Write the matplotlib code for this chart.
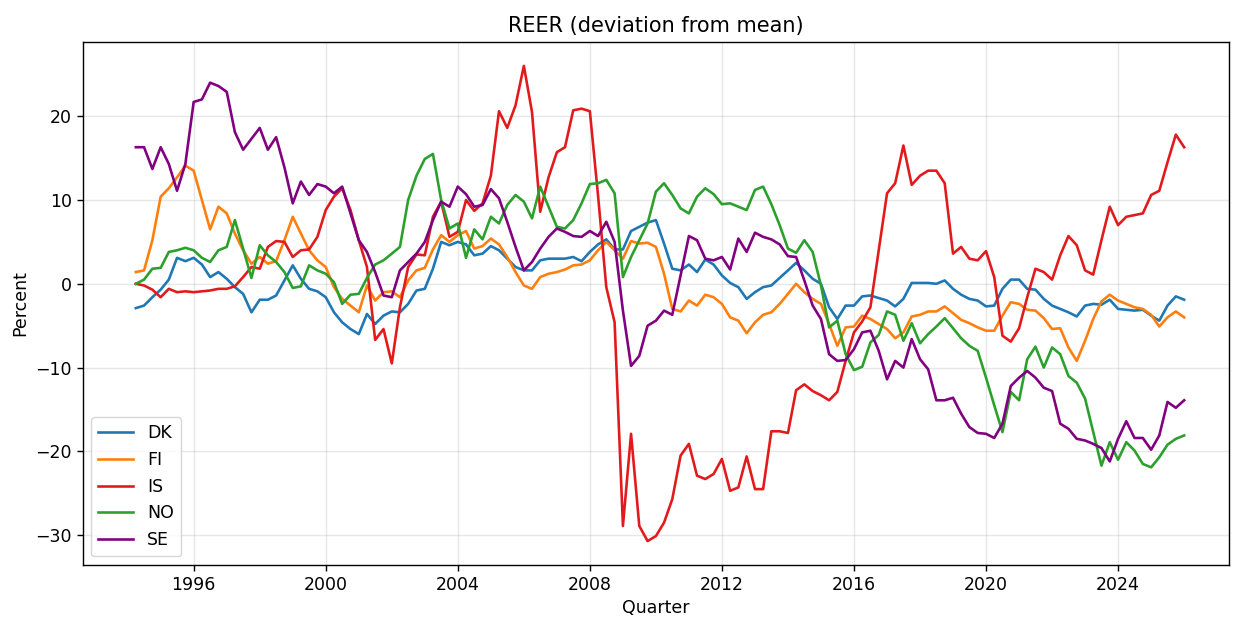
import matplotlib
matplotlib.use("Agg")
import matplotlib.pyplot as plt
import matplotlib.dates as mdates
import pandas as pd

# Quarterly REER, deviation from mean (percent), 1994Q1 - 2025Q4
quarters = pd.date_range("1994-03-31", periods=128, freq="QE")

DK = [-2.9, -2.6, -1.6, -0.7, 0.5, 3.1, 2.7, 3.1, 2.3, 0.8, 1.4, 0.6, -0.4, -1.2, -3.4, -1.9,
      -1.9, -1.4, 0.4, 2.2, 0.6, -0.6, -0.9, -1.6, -3.4, -4.6,
      -5.4, -6.0, -3.6, -4.8, -3.8, -3.3, -3.4, -2.4, -0.8, -0.6, 1.8, 5.0, 4.6, 5.0, 4.7, 3.4,
      3.6, 4.5, 4.0, 3.0, 2.0, 1.6, 1.6, 2.8, 3.0,
      3.0, 3.0, 3.2, 2.7, 3.8, 4.7, 5.3, 4.1, 4.1, 6.3, 6.8, 7.3, 7.6, 4.8, 1.8, 1.6, 2.3, 1.4,
      2.9, 2.3, 1.0, 0.1, -0.4, -1.8, -1.0, -0.4,
      -0.2, 0.7, 1.6, 2.5, 1.6, 0.6, 0.0, -2.8, -4.2, -2.6, -2.6, -1.5, -1.4, -1.7, -2.0, -2.7,
      -1.8, 0.1, 0.1, 0.1, 0.0, 0.4, -0.6, -1.3, -1.8,
      -2.0, -2.7, -2.6, -0.6, 0.5, 0.5, -0.6, -0.7, -1.8, -2.6, -3.0, -3.4, -3.9, -2.6, -2.4, -2.5,
      -1.9, -3.0, -3.1, -3.2, -3.1, -3.8, -4.4, -2.6, -1.5, -1.9]

FI = [1.4, 1.6, 5.2, 10.4, 11.4, 12.7, 14.1, 13.5, 10.0, 6.5, 9.2, 8.4, 6.0, 4.0, 2.4, 3.2,
      2.4, 2.7, 5.2, 8.0, 6.0, 4.0, 2.8, 2.0, -0.4, -1.8,
      -2.6, -3.4, -0.2, -2.0, -1.0, -0.9, -1.6, 0.4, 1.6, 1.9, 4.1, 5.8, 5.0, 5.8, 6.3, 4.2,
      4.5, 5.4, 4.7, 3.2, 1.4, -0.2, -0.6, 0.8, 1.2,
      1.4, 1.7, 2.2, 2.3, 2.8, 4.0, 5.0, 4.0, 3.0, 5.1, 4.8, 4.9, 4.4, 1.2, -3.0, -3.3, -2.0, -2.6,
      -1.3, -1.6, -2.4, -4.0, -4.4, -5.9, -4.6, -3.7,
      -3.4, -2.4, -1.2, 0.0, -1.0, -1.8, -2.4, -4.8, -7.4, -5.2, -5.1, -3.8, -4.2, -4.8, -5.4, -6.5,
      -5.8, -3.9, -3.7, -3.3, -3.3, -2.7, -3.5, -4.3, -4.7,
      -5.2, -5.6, -5.6, -3.8, -2.2, -2.4, -3.1, -3.2, -4.1, -5.4, -5.3, -7.6, -9.2, -6.8, -4.2, -2.1,
      -1.3, -2.0, -2.4, -2.8, -3.0, -3.7, -5.1, -4.0, -3.3, -4.0]

IS = [0.0, -0.2, -0.7, -1.6, -0.6, -1.0, -0.9, -1.0, -0.9, -0.8, -0.6, -0.6, -0.3, 0.8, 2.0, 1.8,
      4.4, 5.1, 5.0, 3.2, 4.0, 4.1, 5.6, 8.8, 10.4, 11.4,
      8.8, 5.2, 2.0, -6.7, -5.4, -9.5, -2.8, 2.0, 3.5, 3.4, 8.0, 9.8, 5.6, 6.2, 10.0, 8.7,
      9.6, 12.9, 20.6, 18.6, 21.3, 26.0, 20.5, 8.6, 12.7,
      15.7, 16.3, 20.7, 20.9, 20.6, 10.5, -0.4, -4.6, -28.9, -17.9, -28.9, -30.7, -30.1, -28.5, -25.7, -20.5,
      -19.1, -22.9, -23.3, -22.7, -20.9, -24.7, -24.3, -20.6, -24.5, -24.5,
      -17.6, -17.6, -17.8, -12.7, -12.0, -12.8, -13.3, -13.9, -12.9, -9.2, -5.8, -4.5, -2.8, 4.0, 10.8, 12.0,
      16.5, 11.8, 12.9, 13.5, 13.5, 12.0, 3.6, 4.4, 3.0,
      2.8, 3.9, 0.8, -6.2, -6.9, -5.3, -1.6, 1.8, 1.4, 0.5, 3.4, 5.7, 4.6, 1.6, 1.1, 5.2,
      9.2, 7.0, 8.0, 8.2, 8.4, 10.6, 11.1, 14.5, 17.8, 16.3]

NO = [0.0, 0.5, 1.8, 1.9, 3.8, 4.0, 4.3, 4.0, 3.1, 2.6, 4.0, 4.4, 7.6, 4.2, 0.7, 4.6,
      3.4, 2.6, 1.4, -0.5, -0.3, 2.2, 1.6, 1.2, 0.2, -2.4,
      -1.3, -1.2, 0.7, 2.3, 2.8, 3.6, 4.4, 10.0, 12.9, 14.9, 15.5, 10.0, 6.6, 7.2, 3.1, 6.5,
      5.3, 8.0, 7.2, 9.4, 10.6, 9.8, 7.8, 11.6, 9.2,
      6.8, 6.6, 7.6, 9.6, 11.9, 12.0, 12.4, 10.8, 0.8, 3.2, 5.2, 7.2, 11.0, 12.0, 10.6, 9.0,
      8.4, 10.4, 11.4, 10.7, 9.5, 9.6, 9.2, 8.8, 11.2, 11.6,
      9.5, 7.0, 4.2, 3.7, 5.2, 3.8, -0.2, -5.2, -4.4, -8.4, -10.3, -9.9, -7.0, -6.1, -3.3, -3.7,
      -6.8, -4.7, -7.1, -6.0, -5.1, -4.1, -5.3, -6.5, -7.4,
      -8.0, -11.2, -14.5, -17.7, -12.9, -13.9, -9.0, -7.5, -10.0, -7.6, -8.4, -11.0, -11.8, -13.7, -17.7, -21.7,
      -18.9, -21.0, -18.9, -19.9, -21.5, -21.9, -20.7, -19.2, -18.5, -18.1]

SE = [16.3, 16.3, 13.7, 16.3, 14.3, 11.1, 14.3, 21.7, 22.0, 24.0, 23.6, 22.9, 18.1, 16.0, 17.3, 18.6,
      16.0, 17.5, 13.9, 9.6, 12.2, 10.6, 11.9, 11.6, 10.8, 11.6,
      8.4, 5.2, 3.8, 1.4, -1.4, -1.6, 1.6, 2.6, 3.6, 5.0, 7.6, 9.8, 9.2, 11.6, 10.7, 9.2,
      9.4, 11.3, 10.2, 7.4, 4.4, 1.6, 2.6, 4.2, 5.6,
      6.6, 6.2, 5.7, 5.6, 6.3, 5.7, 7.4, 5.0, -3.2, -9.8, -8.6, -5.0, -4.4, -3.2, -3.7, 1.0,
      5.7, 5.2, 3.0, 2.8, 3.2, 1.7, 5.4, 3.8, 6.1, 5.6,
      5.3, 4.7, 3.3, 3.2, 0.4, -2.6, -4.2, -8.4, -9.2, -9.1, -7.8, -5.8, -5.6, -8.0, -11.4, -9.2,
      -10.0, -6.6, -9.0, -10.2, -13.9, -13.9, -13.6, -15.5, -17.1,
      -17.8, -17.9, -18.4, -16.7, -12.2, -11.2, -10.4, -11.2, -12.4, -12.8, -16.7, -17.3, -18.5, -18.7, -19.1, -19.6,
      -21.2, -18.5, -16.4, -18.4, -18.4, -19.8, -18.1, -14.1, -14.8, -13.9]

countries = ["DK", "FI", "IS", "NO", "SE"]
series = [DK, FI, IS, NO, SE]
colors = ["tab:blue", "tab:orange", "#e31a1c", "tab:green", "purple"]

# reference looks like a default figure rendered ~1.25x larger
s = 1.256
plt.rcParams.update({
    "font.size": 10 * s,
    "axes.linewidth": 0.8 * s,
    "xtick.major.width": 0.8 * s,
    "ytick.major.width": 0.8 * s,
    "xtick.major.size": 3.5 * s,
    "ytick.major.size": 3.5 * s,
    "grid.linewidth": 0.8 * s,
})

fig = plt.figure(figsize=(12.34, 6.2), dpi=100)
ax = fig.add_axes([0.067, 0.089, 0.929, 0.843])

for name, vals, c in zip(countries, series, colors):
    ax.plot(quarters, vals, color=c, lw=1.5 * s, label=name)

ax.set_title("REER (deviation from mean)", fontsize=12 * s, pad=6 * s)
ax.set_xlabel("Quarter")
ax.set_ylabel("Percent")
ax.xaxis.set_major_locator(mdates.YearLocator(4))
ax.xaxis.set_major_formatter(mdates.DateFormatter("%Y"))
ax.set_xlim(pd.Timestamp("1992-08-20"), pd.Timestamp("2027-05-12"))
ax.set_yticks([-30, -20, -10, 0, 10, 20])
ax.grid(True, alpha=0.3)
ax.legend(loc="lower left")

fig.savefig("out.png", dpi=100)
